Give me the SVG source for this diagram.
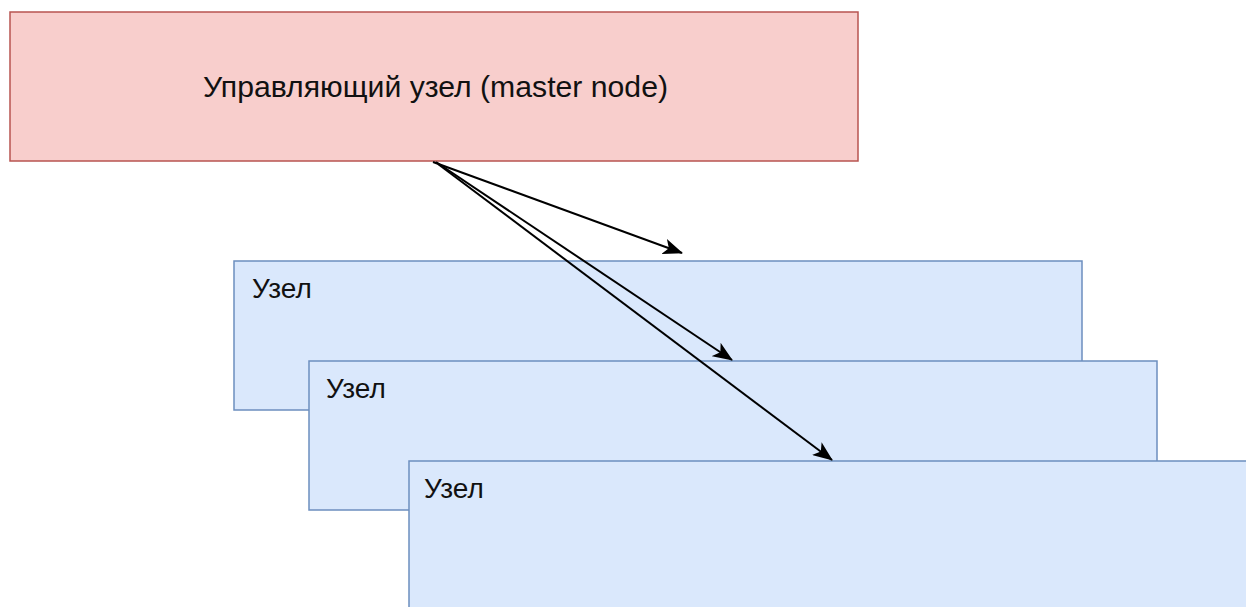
<svg xmlns="http://www.w3.org/2000/svg" width="1246" height="607" viewBox="0 0 1246 607">
<style>
.master{fill:#f8cecc;stroke:#b85450;stroke-width:1.5}
.node{fill:#dae8fc;stroke:#6c8ebf;stroke-width:1.5}
.t{font-family:"Liberation Sans",Arial,sans-serif;fill:#111}
.edge{stroke:#000;stroke-width:2;fill:none;marker-end:url(#arr)}
</style>
<defs>
<marker id="arr" viewBox="0 0 20 16" refX="19" refY="8" markerWidth="20" markerHeight="16" orient="auto" markerUnits="userSpaceOnUse">
<path d="M0,0 L20,8 L0,16 L5,8 Z" fill="#000"/>
</marker>
</defs>
<rect width="1246" height="607" fill="#fff"/>
<g id="master">
<rect class="master" x="10" y="12" width="848" height="149"/>
<text class="t" x="435.5" y="97" font-size="29" text-anchor="middle" textLength="465" lengthAdjust="spacingAndGlyphs">Управляющий узел (master node)</text>
</g>
<g id="node1">
<rect class="node" x="234" y="261" width="848" height="149"/>
<text class="t" x="252" y="298" font-size="28">Узел</text>
</g>
<g id="node2">
<rect class="node" x="309" y="361" width="848" height="149"/>
<text class="t" x="326" y="398" font-size="28">Узел</text>
</g>
<g id="node3">
<rect class="node" x="409" y="461" width="848" height="149"/>
<text class="t" x="424" y="498" font-size="28">Узел</text>
</g>
<g id="connectors">
<line class="edge" x1="433" y1="162" x2="682" y2="253"/>
<line class="edge" x1="436" y1="162" x2="732" y2="360"/>
<line class="edge" x1="438" y1="164" x2="832" y2="460"/>
</g>
</svg>
